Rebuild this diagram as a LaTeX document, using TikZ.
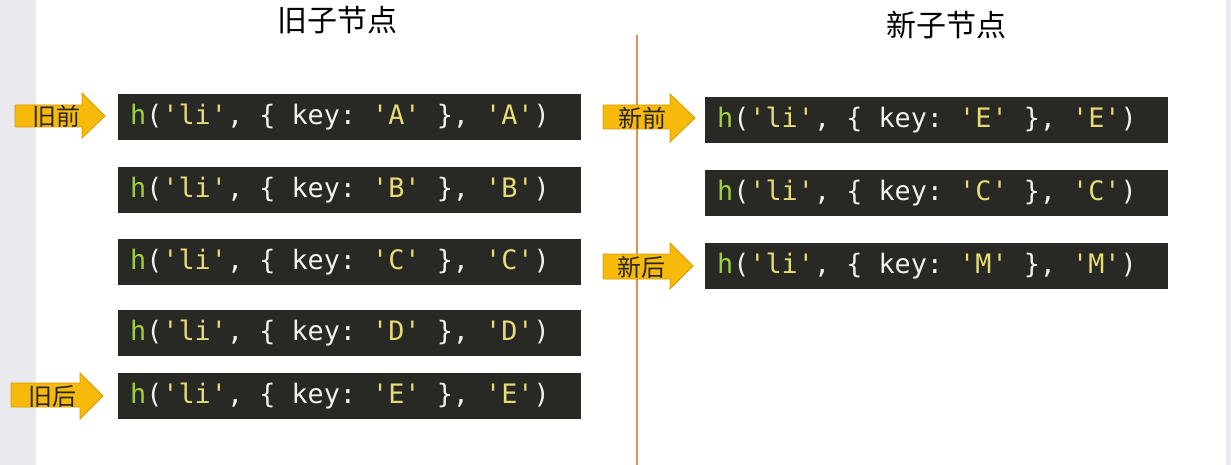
\documentclass[tikz,border=0pt]{standalone}
\usepackage{fontspec}
\newfontfamily\cjk{Noto Sans CJK SC}
\newfontfamily\codefont{DejaVu Sans Mono}
\definecolor{boxbg}{HTML}{282824}
\definecolor{cgreen}{HTML}{9ED23A}
\definecolor{cyellow}{HTML}{E6DB74}
\definecolor{cwhite}{HTML}{F2F2EC}
\definecolor{arrowfill}{HTML}{F7B90A}
\definecolor{arrowline}{HTML}{D99A00}
\definecolor{sepline}{HTML}{E0915A}
\definecolor{stripgray}{HTML}{E9E9EE}
\newcommand{\qq}{\char"0027\relax}
\newcommand{\csp}{\hspace*{0.6021em}}
\newcommand{\codeline}[1]{\textcolor{cgreen}{h}(\textcolor{cyellow}{\qq li\qq},\csp\{\csp key:\csp\textcolor{cyellow}{\qq #1\qq}\csp\},\csp\textcolor{cyellow}{\qq #1\qq})}
\tikzset{
  codebox/.style={fill=boxbg, text=cwhite, font=\codefont\fontsize{26.8}{30}\selectfont,
    minimum width=463pt, minimum height=46pt, anchor=north west, inner xsep=12pt,
    text width=439pt, align=left},
  ptr/.style={fill=arrowfill, draw=arrowline, line width=0.8pt},
  ptrlabel/.style={font=\cjk\fontsize{24}{26}\selectfont, text=black!85, inner sep=0pt},
  title/.style={font=\cjk\fontsize{30}{34}\selectfont, text=black, inner sep=0pt}
}
\begin{document}
\begin{tikzpicture}[x=1pt,y=-1pt]
\useasboundingbox (0,0) rectangle (1231,465);
\fill[white] (0,0) rectangle (1231,465);
\fill[stripgray] (0,0) rectangle (36,465);
\fill[stripgray] (1226,0) rectangle (1231,465);

\node[title] (t1) at (337,20) {旧子节点};
\node[title] (t2) at (946,25) {新子节点};

\coordinate (s1) at (637,35);
\coordinate (s2) at (637,465);
\draw[sepline, line width=1.6pt] (s1) -- (s2);

% old children
\node[codebox] (oA) at (118,94) {\codeline{A}};
\node[codebox] (oB) at (118,167) {\codeline{B}};
\node[codebox] (oC) at (118,239) {\codeline{C}};
\node[codebox] (oD) at (118,310) {\codeline{D}};
\node[codebox] (oE) at (118,373) {\codeline{E}};

% new children
\node[codebox] (nE) at (705,97) {\codeline{E}};
\node[codebox] (nC) at (705,170) {\codeline{C}};
\node[codebox] (nM) at (705,243) {\codeline{M}};

% pointers
\draw[ptr] (15,105) -- (82,105) -- (82,93) -- (105,116) -- (82,138) -- (82,127) -- (15,127) -- cycle;
\node[ptrlabel] (p1) at (56,116) {旧前};

\draw[ptr] (11,383) -- (80,383) -- (80,373) -- (103,396) -- (80,419) -- (80,407) -- (11,407) -- cycle;
\node[ptrlabel] (p2) at (52,396) {旧后};

\draw[ptr] (603,105) -- (670,105) -- (670,94) -- (695,118) -- (670,142) -- (670,129) -- (603,129) -- cycle;
\node[ptrlabel] (p3) at (642,118) {新前};

\draw[ptr] (603,254) -- (670,254) -- (670,243) -- (693,266) -- (670,289) -- (670,279) -- (603,279) -- cycle;
\node[ptrlabel] (p4) at (641,267) {新后};
\end{tikzpicture}
\end{document}
